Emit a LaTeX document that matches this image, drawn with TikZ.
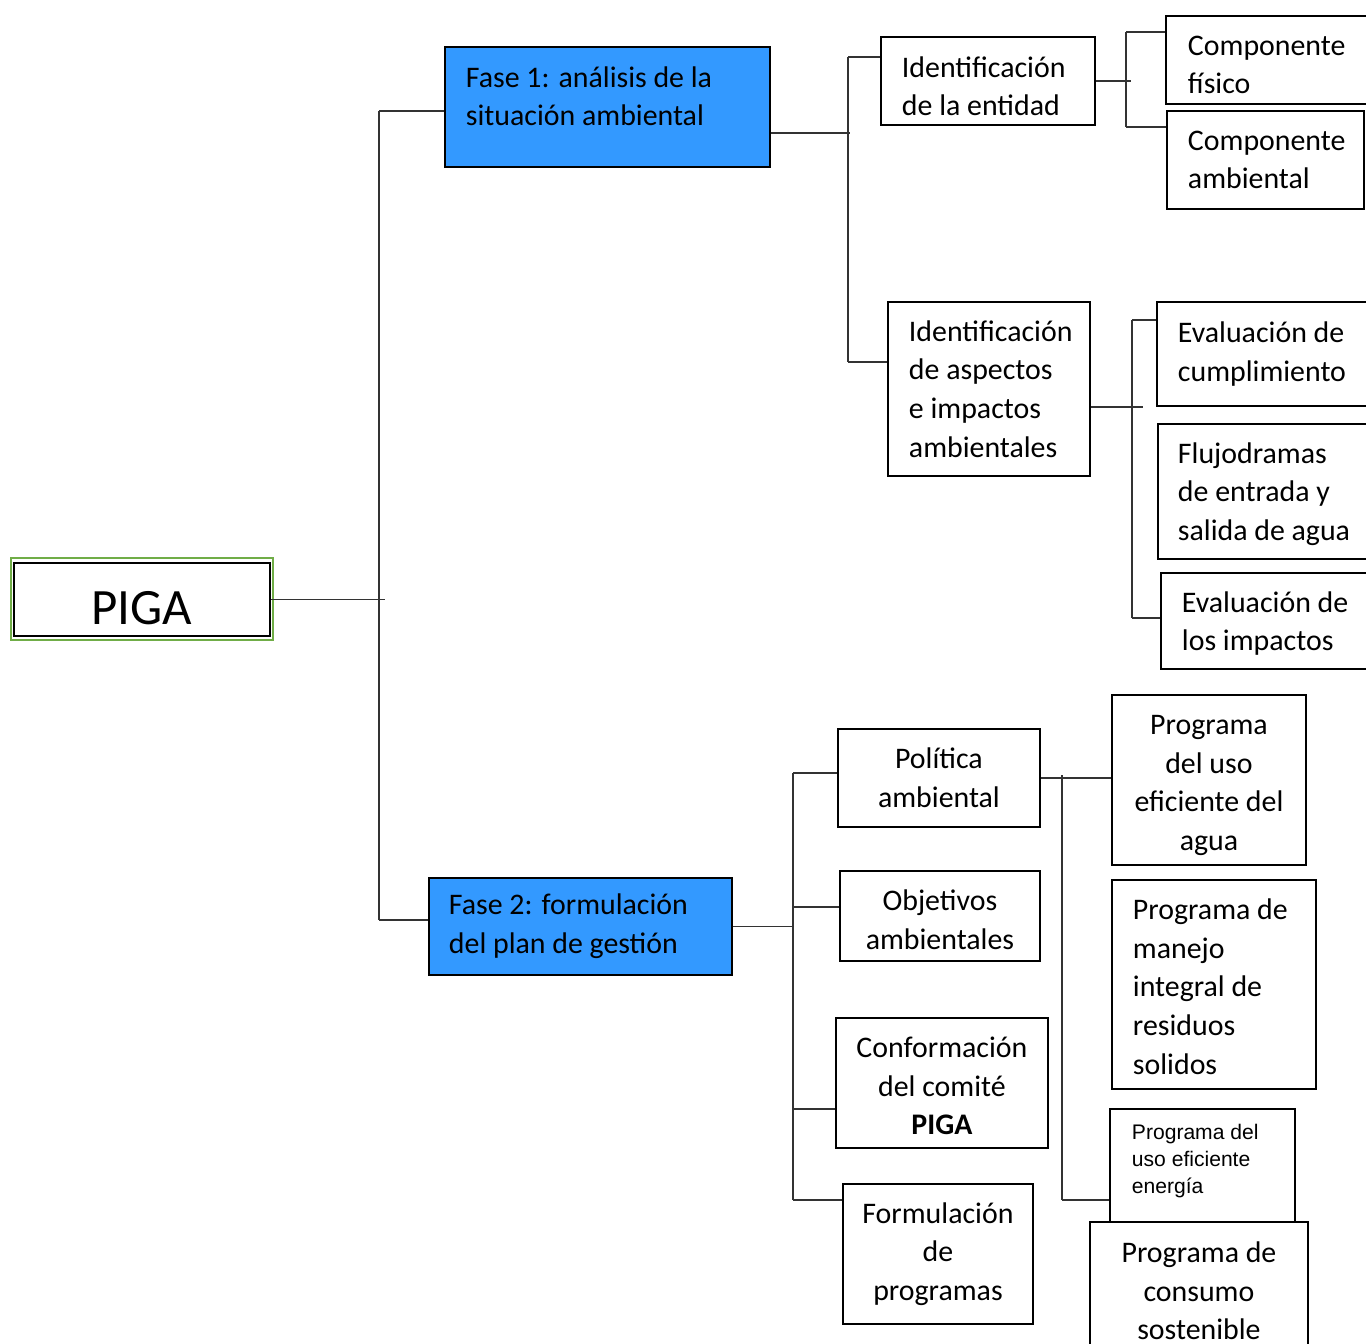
\documentclass[tikz,border=0pt]{standalone}
\usepackage{fontspec}
\setmainfont{Carlito}
\newfontfamily\arialfont{Liberation Sans}
\usepackage{xcolor}
\usepackage{tikz}
\usetikzlibrary{positioning}
\definecolor{azulfase}{RGB}{51,153,255}
\definecolor{verdepiga}{RGB}{112,173,71}
\hyphenpenalty=10000
\exhyphenpenalty=10000

\begin{document}
\begin{tikzpicture}[x=0.02cm,y=-0.02cm,
    caja/.style={draw,line width=1.1pt,rectangle,anchor=north west,inner ysep=0pt,
      align=flush left,font=\fontsize{17pt}{22pt}\selectfont},
    fase/.style={caja,fill=azulfase},
    rama/.style={draw=black!80,line width=0.8pt}]
  \useasboundingbox (0,0) rectangle (1366,1344);
  \clip (0,0) rectangle (1366,1344);

  % raiz
  \node[caja,minimum width=5.12cm,minimum height=1.46cm,inner sep=0pt,align=center,
        text height=28.9pt,text depth=0pt,font=\fontsize{29pt}{35pt}\selectfont] (piga) at (13,562) {PIGA};
  \draw[verdepiga,line width=1.3pt] ([shift={(-2,-4)}]piga.north west) rectangle ([shift={(2,3)}]piga.south east);

  % fases
  \node[fase,minimum width=6.5cm,minimum height=2.4cm,inner xsep=0.42cm,text width=5.66cm,text depth=34.5pt] (fase1) at (444,46)
    {Fase 1: análisis de la\\situación ambiental};
  \node[fase,minimum width=6.06cm,minimum height=1.94cm,inner xsep=0.4cm,text width=5.26cm] (fase2) at (428,877)
    {Fase 2: formulación\\del plan de gestión};

  % fase 1
  \node[caja,minimum width=4.28cm,minimum height=1.76cm,inner xsep=0.42cm,text width=3.44cm,text depth=16.3pt] (ident) at (880,36)
    {Identificación\\de la entidad};
  \node[caja,minimum width=4.7cm,minimum height=1.76cm,inner xsep=0.44cm,text width=3.82cm,text depth=16.3pt] (comp1) at (1165,15)
    {Componente\\físico};
  \node[caja,minimum width=3.94cm,minimum height=1.96cm,inner xsep=0.42cm,text width=3.1cm] (comp2) at (1166,110)
    {Componente\\ambiental};
  \node[caja,minimum width=4.04cm,minimum height=3.48cm,inner xsep=0.42cm,text width=3.2cm] (aspectos) at (887,301)
    {Identificación\\de aspectos\\e impactos\\ambientales};
  \node[caja,minimum width=4.88cm,minimum height=2.08cm,inner xsep=0.42cm,text width=4.04cm] (eval1) at (1156,301)
    {Evaluación de\\cumplimiento};
  \node[caja,minimum width=4.86cm,minimum height=2.7cm,inner xsep=0.4cm,text width=4.06cm,text depth=43.9pt] (fluj) at (1157,423)
    {Flujodramas\\de entrada y\\salida de agua};
  \node[caja,minimum width=4.8cm,minimum height=1.92cm,inner xsep=0.42cm,text width=3.96cm,text depth=21.9pt] (eval2) at (1160,572)
    {Evaluación de\\los impactos};

  % fase 2
  \node[caja,align=flush center,minimum width=4.04cm,minimum height=1.96cm,inner xsep=0.22cm,text width=3.6cm] (politica) at (837,728)
    {Política\\ambiental};
  \node[caja,align=flush center,minimum width=4cm,minimum height=1.8cm,inner xsep=0.2cm,text width=3.6cm,text depth=17.5pt] (objetivos) at (839,870)
    {Objetivos\\ambientales};
  \node[caja,align=flush center,minimum width=4.24cm,minimum height=2.6cm,inner xsep=0.22cm,text width=3.8cm,text depth=40.6pt] (conform) at (835,1017)
    {Conformación\\del comité\\\textbf{PIGA}};
  \node[caja,align=flush center,minimum width=3.8cm,minimum height=2.8cm,inner xsep=0.2cm,text width=3.4cm] (formul) at (842,1183)
    {Formulación\\de\\programas};

  % programas
  \node[caja,align=flush center,minimum width=3.88cm,minimum height=3.4cm,inner xsep=0.19cm,text width=3.5cm,text depth=62.5pt] (agua) at (1111,694)
    {Programa\\del uso\\eficiente del\\agua};
  \node[caja,minimum width=4.08cm,minimum height=4.18cm,inner xsep=0.42cm,text width=3.24cm,text depth=85.7pt] (residuos) at (1111,879)
    {Programa de\\manejo\\integral de\\residuos\\solidos};
  \node[caja,minimum width=3.7cm,minimum height=2.28cm,inner xsep=0.44cm,text width=2.82cm,text depth=38.8pt,
        font=\arialfont\fontsize{12pt}{15.3pt}\selectfont] (energia) at (1109,1108)
    {Programa del\\uso eficiente\\energía};
  \node[caja,fill=white,align=flush center,minimum width=4.36cm,minimum height=2.76cm,inner xsep=0.23cm,text width=3.9cm] (consumo) at (1089,1221)
    {Programa de\\consumo\\sostenible};

  % conectores raiz
  \coordinate (r0) at (379,111);
  \coordinate (r1) at (379,920);
  \draw[rama] (r0) -- (r1);
  \draw[rama] (piga.east) -- +(114,0);
  \draw[rama] (r0) -- (fase1.west |- r0);
  \draw[rama] (r1) -- (fase2.west |- r1);

  % conectores fase 1
  \coordinate (s0) at (848,57);
  \coordinate (s1) at (848,362);
  \draw[rama] (s0) -- (s1);
  \draw[rama] ([yshift=-0.52cm]fase1.east) -- +(79,0);
  \draw[rama] (s0) -- (ident.west |- s0);
  \draw[rama] (s1) -- (aspectos.west |- s1);

  \coordinate (t0) at (1126,32);
  \coordinate (t1) at (1126,127);
  \draw[rama] (t0) -- (t1);
  \draw[rama] (ident.east) -- +(35,0);
  \draw[rama] (t0) -- (comp1.west |- t0);
  \draw[rama] (t1) -- (comp2.west |- t1);

  \coordinate (u0) at (1132,320);
  \coordinate (u1) at (1132,618);
  \draw[rama] (u0) -- (u1);
  \draw[rama] ([yshift=-0.36cm]aspectos.east) -- +(52,0);
  \draw[rama] (u0) -- (eval1.west |- u0);
  \draw[rama] (u1) -- (eval2.west |- u1);

  % conectores fase 2
  \coordinate (v0) at (793,773);
  \coordinate (v1) at (793,1200);
  \draw[rama] (v0) -- (v1);
  \draw[rama] (fase2.east) -- (v0 |- fase2.east);
  \draw[rama] (v0) -- (politica.west |- v0);
  \draw[rama] ([yshift=0.18cm]objetivos.west) -- +(-46,0);
  \draw[rama] ([yshift=-0.52cm]conform.west) -- +(-42,0);
  \draw[rama] (v1) -- (formul.west |- v1);

  \coordinate (w0) at (1062,775);
  \coordinate (w1) at (1062,1200);
  \draw[rama] (w0) -- (w1);
  \draw[rama] (politica.east) -- (agua.west |- politica.east);
  \draw[rama] (w1) -- (energia.west |- w1);
\end{tikzpicture}
\end{document}
